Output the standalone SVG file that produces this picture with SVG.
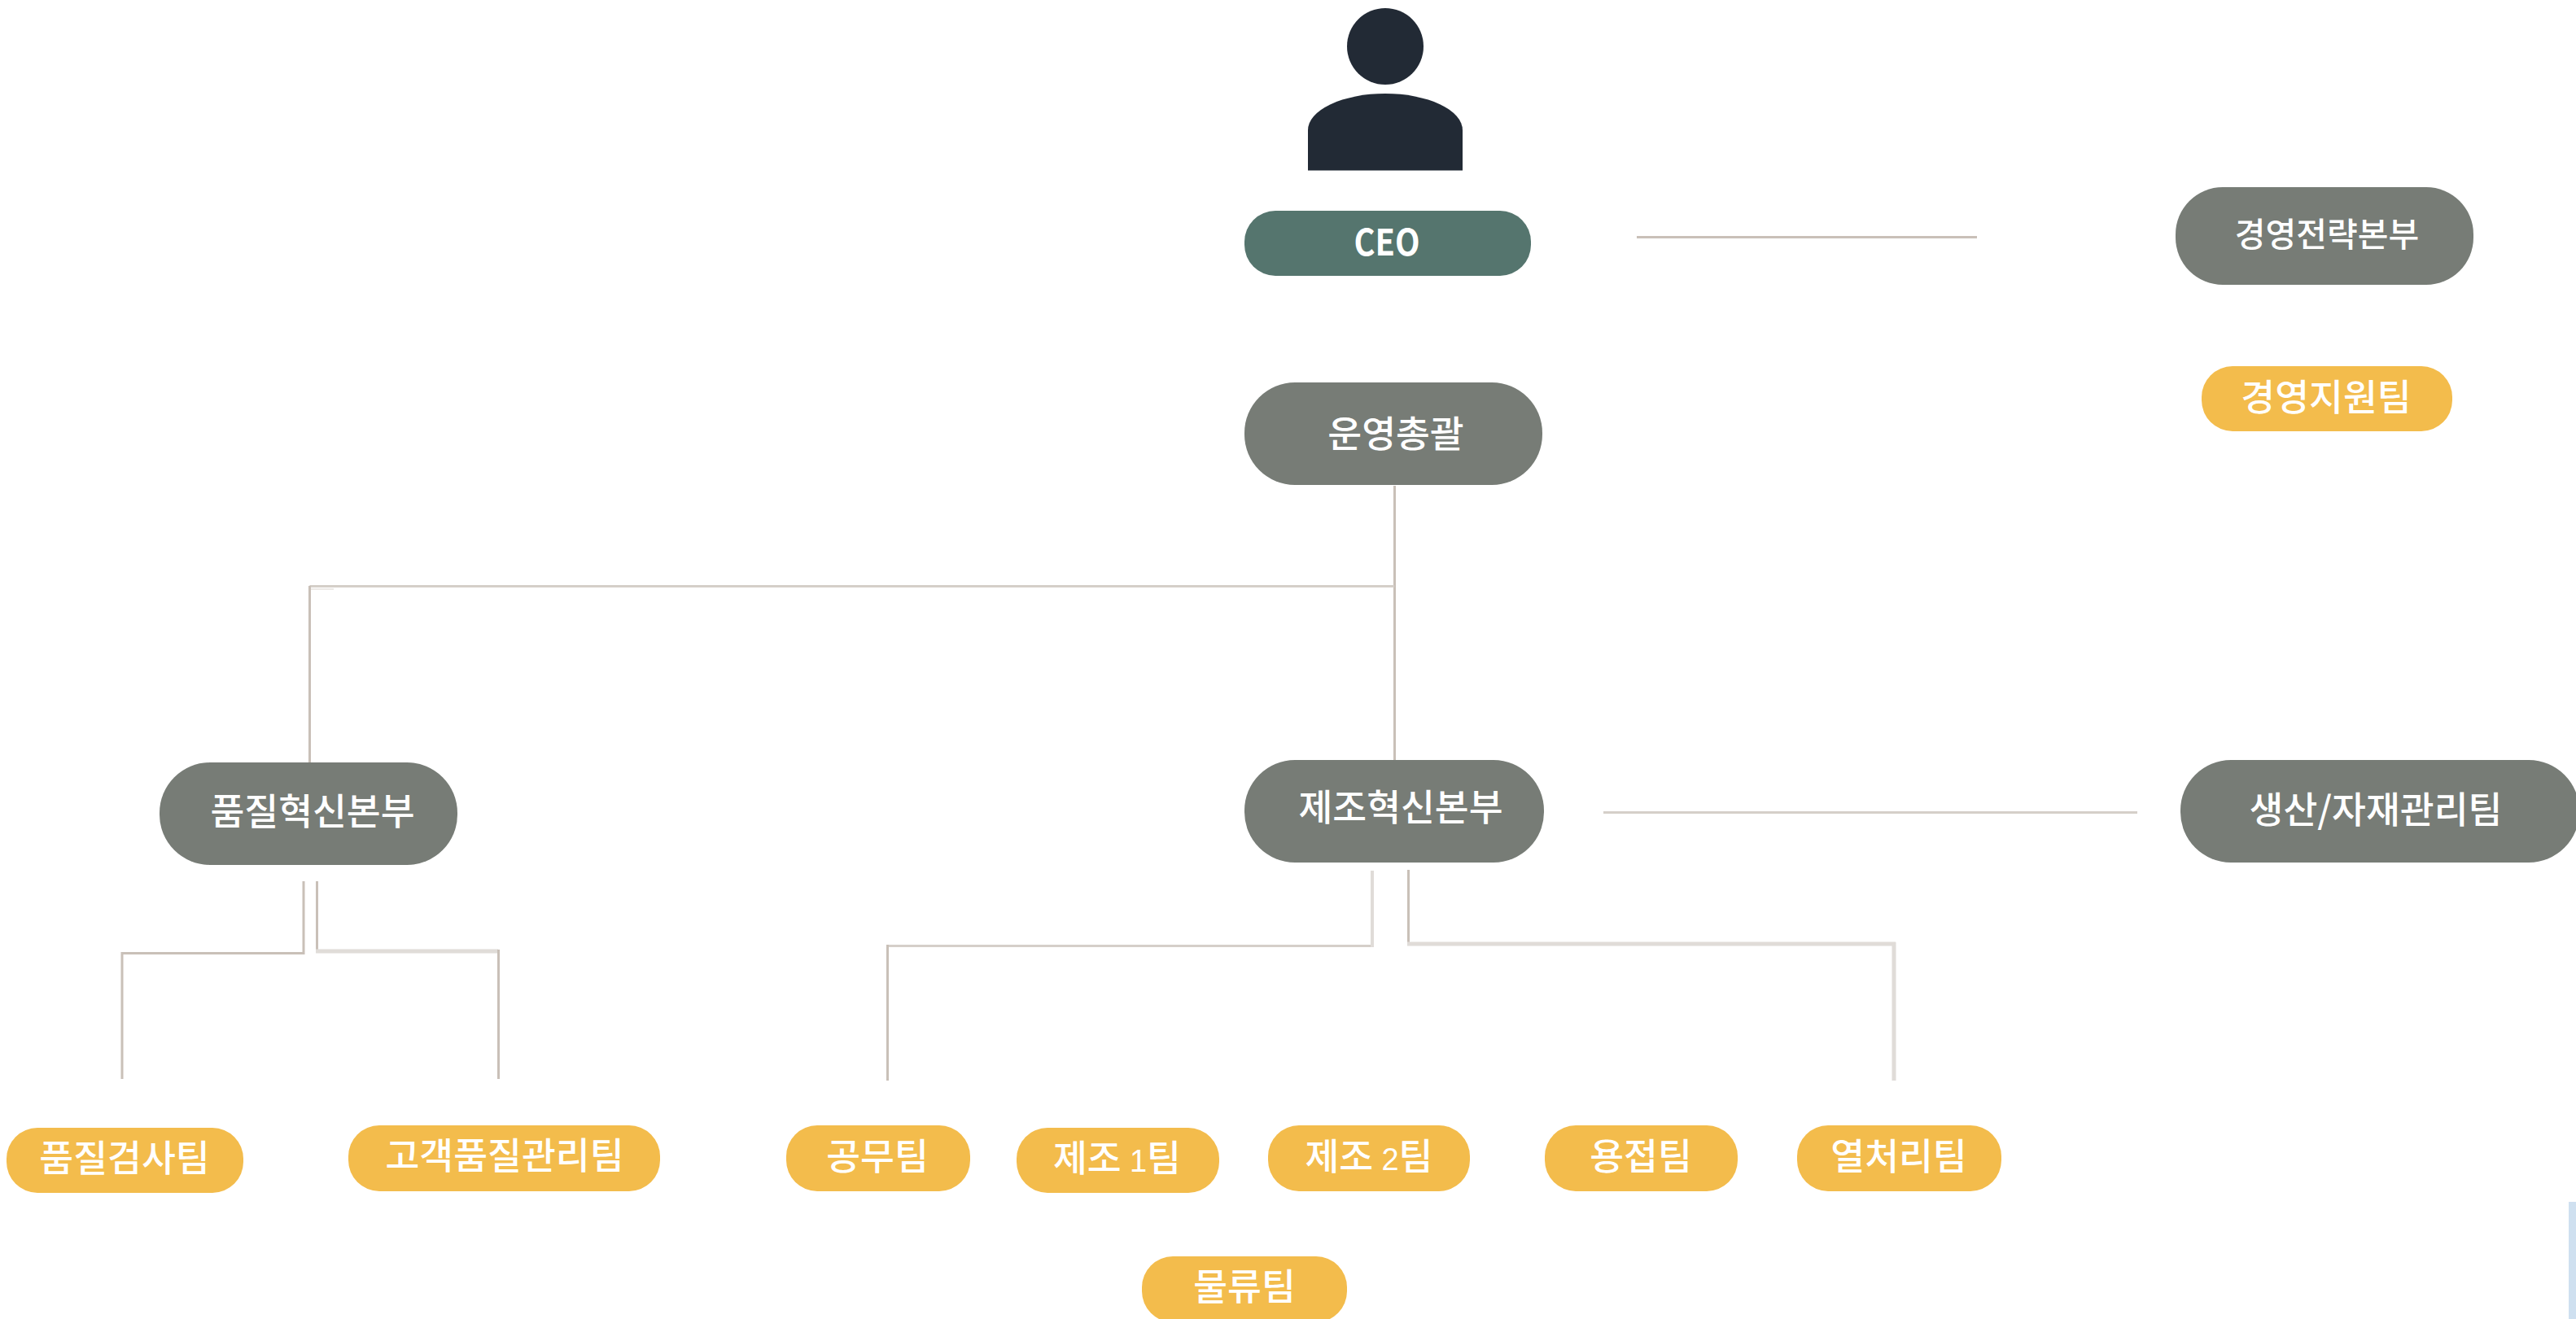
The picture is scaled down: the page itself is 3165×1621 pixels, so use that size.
<svg xmlns="http://www.w3.org/2000/svg" width="3165" height="1621" viewBox="0 0 3165 1621">
<style>
.g{fill:#777c76}.y{fill:#f3bc4c}.c{fill:#55756e}
text{font-family:"Noto Sans CJK KR","Noto Sans",sans-serif;fill:#fff;font-size:45.5px;font-weight:500;text-anchor:middle}
.s{font-size:41px}
.n{font-family:"Liberation Sans",Arial,sans-serif;font-size:38px;font-weight:400}
.a{stroke:#c9c0b8;stroke-width:3;fill:none}
.b{stroke:#e0dcd8;stroke-width:5;fill:none}
.d{stroke:#d5cfc9;stroke-width:3;fill:none}
</style>
<rect width="3165" height="1621" fill="#fff"/>
<g id="connectors">
<path class="a" d="M2011 291.500H2429"/>
<path class="a" d="M1713.500 597V934"/>
<path class="d" d="M1713 720.500H380.500"/>
<path class="b" style="stroke-width:2;stroke:#ece9e6" d="M380 724H410"/>
<path class="a" d="M380.500 720V937"/>
<path class="a" d="M373 1083V1171.500H150V1326"/>
<path class="a" d="M389.500 1083V1167"/>
<path class="b" d="M388 1169H612"/>
<path class="a" d="M612.500 1167V1326"/>
<path class="d" d="M1686 1162.500H1090.500"/>
<path class="b" style="stroke-width:4" d="M1686 1070V1164"/>
<path class="a" d="M1090.500 1161V1328"/>
<path class="a" d="M1730.500 1069V1158"/>
<path class="b" d="M1729 1160H2329"/>
<path class="b" d="M2327 1158V1328"/>
<path class="d" d="M1970 998.500H2626"/>
</g>
<g id="ceo-icon" fill="#222a35">
<ellipse cx="1702" cy="57" rx="47" ry="47"/>
<path d="M1607 209.600V160A95 45 0 0 1 1797 160V209.600Z"/>
</g>
<g id="ceo"><rect class="c" x="1529" y="259" width="352" height="80" rx="38"/><text x="1704" y="314" font-weight="700" style="font-size:44px;font-weight:700" textLength="81" lengthAdjust="spacingAndGlyphs">CEO</text></g>
<g id="strategy"><rect class="g" x="2673" y="230" width="366" height="120" rx="58"/><text class="s" x="2859" y="303">경영전략본부</text></g>
<g id="support"><rect class="y" x="2705" y="450" width="308" height="80" rx="38"/><text x="2858" y="505">경영지원팀</text></g>
<g id="ops"><rect class="g" x="1529" y="470" width="366" height="126" rx="62"/><text x="1715" y="550">운영총괄</text></g>
<g id="quality"><rect class="g" x="196" y="937" width="366" height="126" rx="62"/><text x="384" y="1014">품질혁신본부</text></g>
<g id="mfg"><rect class="g" x="1529" y="934" width="368" height="126" rx="62"/><text x="1721" y="1009">제조혁신본부</text></g>
<g id="prod"><rect class="g" x="2679" y="934" width="490" height="126" rx="62"/><text x="2919" y="1012">생산/자재관리팀</text></g>
<g id="inspect"><rect class="y" x="8" y="1386" width="291" height="80" rx="38"/><text x="153" y="1440">품질검사팀</text></g>
<g id="cs"><rect class="y" x="428" y="1383" width="383" height="81" rx="38"/><text x="620" y="1437">고객품질관리팀</text></g>
<g id="facility"><rect class="y" x="966" y="1383" width="226" height="81" rx="38"/><text x="1078" y="1438">공무팀</text></g>
<g id="mfg1"><rect class="y" x="1249" y="1386" width="249" height="80" rx="38"/><text x="1372.500" y="1440">제조 <tspan class="n">1</tspan>팀</text></g>
<g id="mfg2"><rect class="y" x="1558" y="1383" width="248" height="81" rx="38"/><text x="1682" y="1438">제조 <tspan class="n">2</tspan>팀</text></g>
<g id="weld"><rect class="y" x="1898" y="1383" width="237" height="81" rx="38"/><text x="2016" y="1438">용접팀</text></g>
<g id="heat"><rect class="y" x="2208" y="1383" width="251" height="81" rx="38"/><text x="2333" y="1438">열처리팀</text></g>
<g id="logistics"><rect class="y" x="1403" y="1544" width="252" height="81" rx="38"/><text x="1529" y="1598">물류팀</text></g>
<rect x="3156" y="1477" width="9" height="144" fill="#cfe0f0"/>
</svg>
